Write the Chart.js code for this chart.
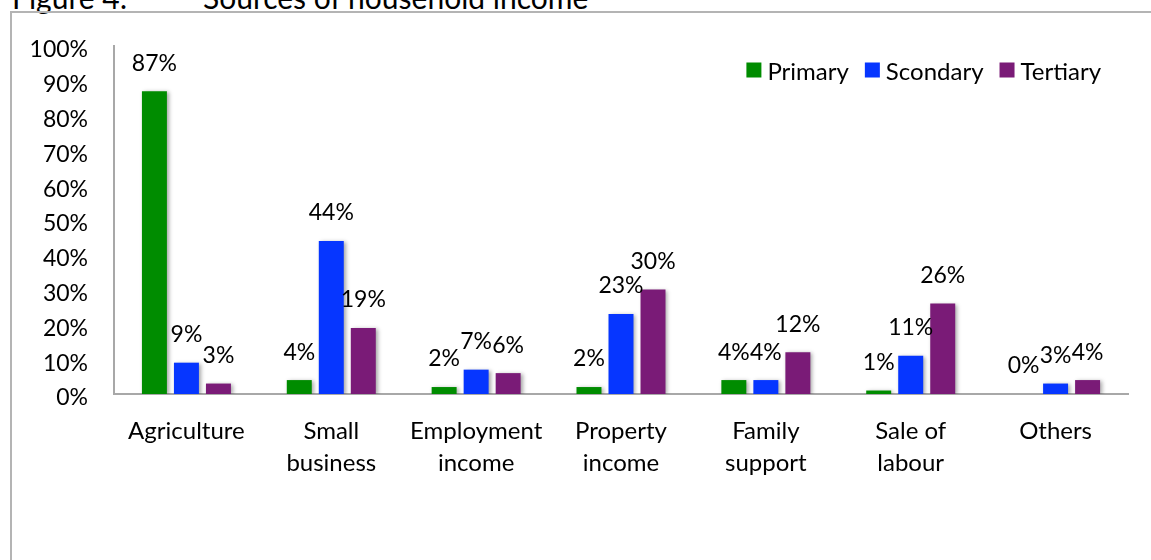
<!DOCTYPE html>
<html>
<head>
<meta charset="utf-8">
<title>Sources of household income</title>
<script src="https://cdn.jsdelivr.net/npm/chart.js@4.4.1/dist/chart.umd.min.js"></script>
<style>
    html, body {
        margin: 0;
        padding: 0;
        background: #fff;
        overflow: hidden;
    }
    .page {
        position: relative;
        width: 1151px;
        height: 560px;
        font-family: Lato, "Open Sans", sans-serif;
    }
    .fig-title {
        position: absolute;
        top: -18px;
        font-size: 30px;
        line-height: 30px;
        color: #000;
        white-space: pre;
    }
    .frame {
        position: absolute;
        left: 10px;
        top: 11px;
        width: 1160px;
        height: 600px;
        border-top: 2px solid #b4b4b4;
        border-left: 2px solid #b4b4b4;
    }
    .chart-box {
        position: absolute;
        left: 0;
        top: 0;
        width: 1151px;
        height: 560px;
    }
</style>
</head>
<body>
<div class="page">
    <div class="fig-title" style="left: 12px;">Figure 4:</div>
    <div class="fig-title" style="left: 203px;">Sources of household income</div>
    <div class="frame"></div>
    <div class="chart-box"><canvas id="incomeChart"></canvas></div>
</div>

<script>
    const categories = [
        "Agriculture",
        ["Small", "business"],
        ["Employment", "income"],
        ["Property", "income"],
        ["Family", "support"],
        ["Sale of", "labour"],
        "Others"
    ];

    // percent of households by education level of head
    const primaryValues = [87, 4, 2, 2, 4, 1, 0];
    const secondaryValues = [9, 44, 7, 23, 4, 11, 3];
    const tertiaryValues = [3, 19, 6, 30, 12, 26, 4];

    const yTicks = [0, 10, 20, 30, 40, 50, 60, 70, 80, 90, 100];

    const FONT = "Lato";
    const AXIS_GRAY = "#a8a8a8";

    // soft drop shadow under the bars, value labels above them,
    // and a one-row legend in the top right corner of the plot
    const barExtras = {
        id: "barExtras",
        beforeDatasetsDraw(chart) {
            const ctx = chart.ctx;
            ctx.save();
            ctx.shadowColor = "rgba(0,0,0,0.35)";
            ctx.shadowBlur = 4;
            ctx.shadowOffsetX = 2;
            ctx.shadowOffsetY = 1;
        },
        afterDatasetsDraw(chart) {
            const ctx = chart.ctx;
            ctx.restore();

            ctx.save();
            ctx.font = `23px ${FONT}`;
            ctx.fillStyle = "#000";
            ctx.textAlign = "center";
            ctx.textBaseline = "middle";
            chart.data.datasets.forEach((ds, i) => {
                const meta = chart.getDatasetMeta(i);
                meta.data.forEach((bar, j) => {
                    ctx.fillText(ds.data[j] + "%", bar.x, bar.y - 28);
                });
            });
            ctx.restore();
        },
        afterDraw(chart) {
            const ctx = chart.ctx;
            const datasets = chart.data.datasets;
            const box = 15, boxGap = 6, itemGap = 16;
            const midY = chart.chartArea.top + 25;

            ctx.save();
            ctx.font = `24px ${FONT}`;
            ctx.textBaseline = "middle";
            ctx.textAlign = "left";

            const widths = datasets.map(ds => ctx.measureText(ds.label).width);
            const total = widths.reduce((a, w) => a + box + boxGap + w, 0) + itemGap * (datasets.length - 1);
            let x = chart.chartArea.right - 27 - total;

            datasets.forEach((ds, i) => {
                ctx.fillStyle = ds.backgroundColor;
                ctx.fillRect(x, midY - box / 2 - 1, box, box);
                x += box + boxGap;
                ctx.fillStyle = "#000";
                ctx.fillText(ds.label, x, midY + 1);
                x += widths[i] + itemGap;
            });
            ctx.restore();
        }
    };

    new Chart(document.getElementById("incomeChart").getContext("2d"), {
        type: "bar",
        data: {
            labels: categories,
            datasets: [
                { label: "Primary", data: primaryValues, backgroundColor: "#008c00" },
                { label: "Scondary", data: secondaryValues, backgroundColor: "#0636ff" },
                { label: "Tertiary", data: tertiaryValues, backgroundColor: "#7a1b77" }
            ]
        },
        options: {
            responsive: true,
            maintainAspectRatio: false,
            animation: false,
            categoryPercentage: 0.663,
            barPercentage: 0.78,
            layout: {
                padding: { left: 0, top: 46, right: 23, bottom: 0 }
            },
            scales: {
                x: {
                    grid: { display: false, drawTicks: false },
                    border: { color: AXIS_GRAY, width: 2 },
                    ticks: {
                        color: "#000",
                        font: { family: FONT, size: 24, lineHeight: 1.3 },
                        padding: 22,
                        maxRotation: 0,
                        autoSkip: false
                    },
                    afterFit(scale) {
                        scale.height = 166;
                    }
                },
                y: {
                    min: 0,
                    max: 100,
                    afterBuildTicks(scale) {
                        scale.ticks = yTicks.map(v => ({ value: v }));
                    },
                    grid: { display: false, drawTicks: false },
                    border: { color: AXIS_GRAY, width: 2 },
                    ticks: {
                        color: "#000",
                        font: { family: FONT, size: 23 },
                        padding: 26,
                        labelOffset: 4,
                        callback: v => v + "%"
                    },
                    afterFit(scale) {
                        scale.width = 114;
                    }
                }
            },
            plugins: {
                legend: { display: false },
                tooltip: { enabled: false }
            }
        },
        plugins: [barExtras]
    });
</script>
</body>
</html>
